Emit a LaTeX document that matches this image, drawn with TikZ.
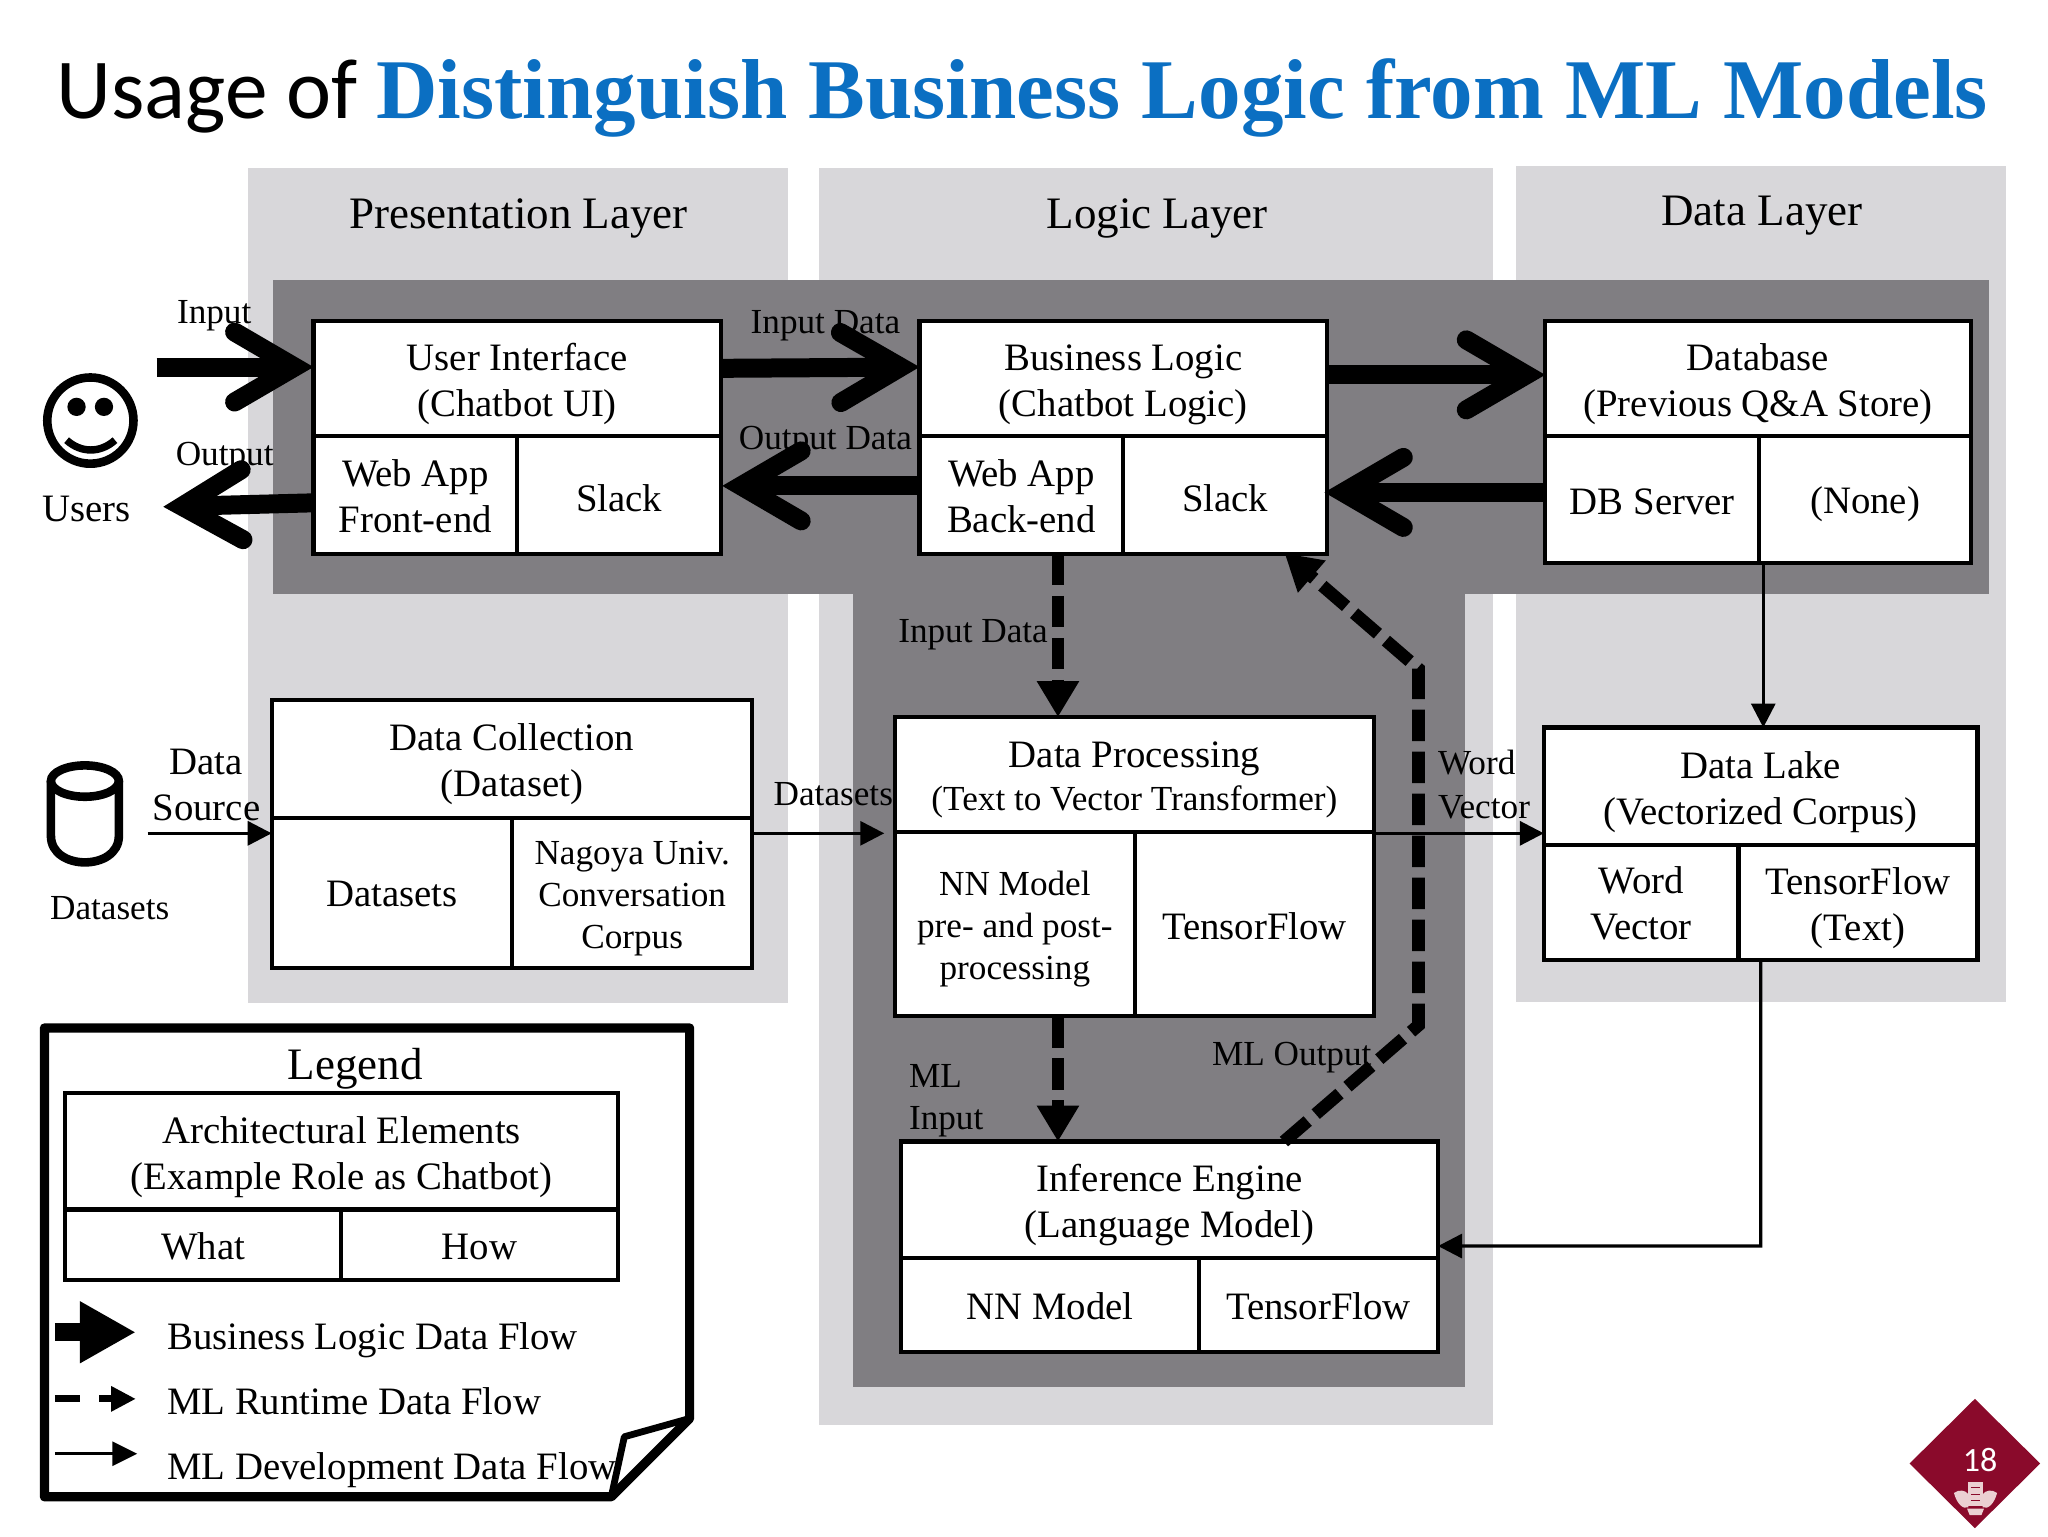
\documentclass[tikz,border=0pt]{standalone}
\usepackage{fontspec}
\setmainfont{Liberation Serif}
\newfontfamily\calibri{Carlito}
\usetikzlibrary{arrows.meta,calc}
\definecolor{lightband}{HTML}{D8D7DA}
\definecolor{darkband}{HTML}{807E82}
\definecolor{titleblue}{HTML}{0B6FC2}
\definecolor{maroon}{HTML}{8A0A2B}
\definecolor{crest}{HTML}{EBD0D2}
\def\uu{0.65306pt}
\def\fbig{\fontsize{22.5}{26}\selectfont}
\def\fmid{\fontsize{19.4}{23}\selectfont}
\def\fsm{\fontsize{17.6}{21}\selectfont}
\def\fnam{\fontsize{19.4}{23}\selectfont}
\tikzset{
  cell/.style={draw=black,fill=white,line width=2.1pt,inner sep=0pt,outer sep=0pt,align=center,font=\fmid,text=black},
  cellsmall/.style={cell,font=\fsm},
  lbl/.style={inner sep=0pt,outer sep=0pt,font=\fsm,align=center,text=black},
  lblleft/.style={inner sep=0pt,outer sep=0pt,font=\fsm,align=left,text=black},
  namelbl/.style={inner sep=0pt,outer sep=0pt,font=\fnam,align=center,text=black},
  layertitle/.style={inner sep=0pt,outer sep=0pt,font=\fbig,text=black},
  legendlbl/.style={inner sep=0pt,outer sep=0pt,font=\fmid,anchor=base west,text=black},
  bizflow/.style={line width=9.5pt,line cap=butt,draw=black,-{Straight Barb[length=30pt,width=35pt,line width=9.5pt,line cap=round,line join=miter]}},
  runflow/.style={line width=6.3pt,draw=black,dash pattern=on 15.7pt off 5.3pt,line join=miter,-{Triangle[length=18pt,width=20pt]}},
  devflow/.style={line width=1.6pt,draw=black,-{Triangle[length=12pt,width=12pt]}},
}
\newcommand{\mkcell}[7][1.3pt]{\node[cell,minimum width={(#5-#3)*\uu},minimum height={(#6-#4)*\uu}] (#2) at ({(#3+#5)/2},{(#4+#6)/2}) {\rule{0pt}{\dimexpr 14pt+2\dimexpr#1\relax\relax}#7};}
\newcommand{\mkcellS}[7][1.6pt]{\node[cellsmall,minimum width={(#5-#3)*\uu},minimum height={(#6-#4)*\uu}] (#2) at ({(#3+#5)/2},{(#4+#6)/2}) {\rule{0pt}{\dimexpr 14pt+2\dimexpr#1\relax\relax}#7};}
\begin{document}
\begin{tikzpicture}[x=0.65306pt,y=-0.65306pt]
\useasboundingbox (0,0) rectangle (1568,1176);
\fill[white] (0,0) rectangle (1568,1176);
% bands
\fill[lightband] (190,129) rectangle (603,768);
\fill[lightband] (627,129) rectangle (1143,1091);
\fill[lightband] (1161,127) rectangle (1536,767);
\fill[darkband] (209,214) rectangle (1523,455);
\fill[darkband] (653,455) rectangle (1122,1062);
% title
\node[anchor=base west,inner sep=0pt,font=\calibri\fontsize{42.7}{50}\selectfont] (t1) at (43,91) {Usage of};
\node[anchor=base west,inner sep=0pt,font=\bfseries\fontsize{42.5}{50}\selectfont,text=titleblue] (t2) at (288,91) {Distinguish Business Logic from ML Models};
% layer titles
\node[layertitle] (lp) at (397,167) {Presentation Layer};
\node[layertitle] (ll) at (886,167) {Logic Layer};
\node[layertitle] (ld) at (1349,165) {Data Layer};
% cells
\mkcell[2.6pt]{ui}{240}{246}{552}{334}{User Interface\\(Chatbot UI)}
\mkcell[0.3pt]{uil}{240}{334}{396}{424}{Web App\\Front-end}
\mkcell{uir}{396}{334}{552}{424}{Slack}
\mkcell[2.6pt]{bl}{704}{246}{1016}{334}{Business Logic\\(Chatbot Logic)}
\mkcell[0.3pt]{bll}{704}{334}{860}{424}{Web App\\Back-end}
\mkcell{blr}{860}{334}{1016}{424}{Slack}
\mkcell[2.6pt]{db}{1183}{246}{1509}{334}{Database\\(Previous Q\&A Store)}
\mkcell[0.6pt]{dbl}{1183}{334}{1347}{431}{DB Server}
\mkcell[2.2pt]{dbr}{1347}{334}{1509}{431}{(None)}
\mkcell[2.6pt]{dc}{208}{536}{576}{626}{Data Collection\\(Dataset)}
\mkcell[0.2pt]{dcl}{208}{626}{392}{741}{Datasets}
\mkcellS{dcr}{392}{626}{576}{741}{Nagoya Univ.\\Conversation\\Corpus}
\mkcell[2.1pt]{dp}{685}{549}{1052}{637}{Data Processing\\[-1.6pt]\fsm (Text to Vector Transformer)}
\mkcellS{dpl}{685}{637}{869}{778}{NN Model\\pre- and post-\\processing}
\mkcell[0.7pt]{dpr}{869}{637}{1052}{778}{TensorFlow}
\mkcell[2.6pt]{dl}{1182}{557}{1514}{647}{Data Lake\\(Vectorized Corpus)}
\mkcell[0.3pt]{dll}{1182}{647}{1331}{735}{Word\\Vector}
\mkcell[2.6pt]{dlr}{1331}{647}{1514}{735}{TensorFlow\\(Text)}
\mkcell[2.6pt]{ie}{690}{874}{1101}{963}{Inference Engine\\(Language Model)}
\mkcell[0.2pt]{iel}{690}{963}{918}{1035}{NN Model}
\mkcell[0.2pt]{ier}{918}{963}{1101}{1035}{TensorFlow}
% users icon
\draw[line width=4.3pt] (69.2,322) circle (33);
\fill (58.6,311.5) circle (7);
\fill (79.6,311.5) circle (7);
\draw[line width=3.7pt] (51,337) .. controls (62,347) and (77,347) .. (88,337);
\node[namelbl] (users) at (66,390) {Users};
% datasets icon
\draw[line width=4.3pt] (65,598) ellipse (26 and 12);
\draw[line width=4.3pt] (39,598) -- (39,640) .. controls (39,667) and (91,667) .. (91,640) -- (91,598);
\node[lbl] (dsets) at (84,695) {Datasets};
% free ends
\coordinate (inA) at (120,281);
\coordinate (outZ) at (125,388);
\coordinate (srcA) at (113,638);
\coordinate (dsZ) at (677,638);
\coordinate (elbow) at (1348,954);
\coordinate (m1) at (1086,785);
\coordinate (m2) at (1086,512);
% business flows
\draw[bizflow] (inA) -- ($(ui.west)+(0,-9)$);
\draw[bizflow] ($(ui.east)+(0,-8)$) -- ($(bl.west)+(0,-9)$);
\draw[bizflow] ($(bl.east)+(0,-3)$) -- ($(db.west)+(0,-3)$);
\draw[bizflow] ($(dbl.west)+(0,-5.5)$) -- ($(blr.east)+(-2,-2)$);
\draw[bizflow] ($(bll.west)+(0,-7)$) -- ($(uir.east)+(1,-7)$);
\draw[bizflow] ($(uil.west)+(-1,6)$) -- (outZ);
% ML runtime flows
\draw[runflow] ($(bll.south west)+(106,0)$) -- ($(dp.north west)+(125,0)$);
\draw[runflow] ($(dpl.south west)+(125,0)$) -- ($(ie.north west)+(120,0)$);
\draw[runflow] ($(ie.north west)+(293,0)$) -- (m1) -- (m2) -- ($(blr.south west)+(123.5,-0.5)$);
% ML development flows
\draw[devflow] (srcA) -- ($(dcl.north west)+(0,12)$);
\draw[devflow] ($(dcr.north east)+(0,12)$) -- (dsZ);
\draw[devflow] ($(dp.south east)+(0,1)$) -- ($(dll.north west)+(0,-9)$);
\draw[devflow] ($(dbr.south west)+(3,0)$) -- ($(dl.north west)+(168,0)$);
\draw[devflow] ($(dlr.south west)+(17,0)$) -- (elbow) -- ($(ie.south east)+(0,-9)$);
% labels
\node[lbl] (lInput) at (164,242) {Input};
\node[lbl] (lOutput) at (172,350) {Output};
\node[lbl] (lID1) at (632,249) {Input Data};
\node[lbl] (lOD) at (632,338) {Output Data};
\node[lbl] (lID2) at (745,486) {Input Data};
\node[namelbl] (lSrc) at (158,601) {Data\\Source};
\node[lbl] (lDs) at (638,608) {Datasets};
\node[lblleft,anchor=west] (lWV) at (1101,601) {Word\\[1pt]Vector};
\node[lbl] (lMO) at (989,810) {ML Output};
\node[lblleft,anchor=west] (lMI) at (696,843) {ML\\Input};
% legend
\draw[line width=4.6pt,line join=round,fill=white] (34,787) -- (528,787) -- (528,1086) -- (468,1146) -- (34,1146) -- cycle;
\draw[line width=3.4pt,line join=round] (528,1086) -- (478,1100) -- (468,1146);
\node[layertitle] (lg) at (272,818) {Legend};
\mkcell[2.6pt]{lga}{50}{837}{473}{926}{Architectural Elements\\(Example Role as Chatbot)}
\mkcell[0.6pt]{lgw}{50}{926}{261}{980}{What}
\mkcell[0.6pt]{lgh}{261}{926}{473}{980}{How}
\coordinate (k1a) at (42,1020); \coordinate (k1z) at (104,1020);
\coordinate (k2a) at (42,1071); \coordinate (k2z) at (104,1071);
\coordinate (k3a) at (42,1113); \coordinate (k3z) at (105,1113);
\draw[line width=9.2pt,-{Triangle[length=28pt,width=29pt]}] (k1a) -- (k1z);
\draw[line width=3.5pt,dash pattern=on 12.4pt off 9.8pt,-{Triangle[length=12.4pt,width=12pt]}] (k2a) -- (k2z);
\draw[line width=1.5pt,-{Triangle[length=12.4pt,width=12pt]}] (k3a) -- (k3z);
\node[legendlbl] (k1t) at (128,1033) {Business Logic Data Flow};
\node[legendlbl] (k2t) at (128,1083) {ML Runtime Data Flow};
\node[legendlbl] (k3t) at (128,1133) {ML Development Data Flow};
% page badge
\fill[maroon] (1512,1071) -- (1562,1120.5) -- (1512,1170) -- (1462,1120.5) -- cycle;
\node[inner sep=0pt,text=white,font=\calibri\fontsize{17}{20}\selectfont] (pg) at (1516,1118) {18};
\fill[crest] (1507,1135) rectangle (1518,1153);
\fill[crest] (1496,1143) .. controls (1500,1140) and (1505,1141) .. (1507,1144) -- (1507,1154) .. controls (1503,1156) and (1498,1151) .. cycle;
\fill[crest] (1529,1143) .. controls (1525,1140) and (1520,1141) .. (1518,1144) -- (1518,1154) .. controls (1522,1156) and (1527,1151) .. cycle;
\fill[crest] (1506,1155) -- (1519,1155) -- (1517,1160) -- (1508,1160) -- cycle;
\draw[maroon,line width=0.5pt] (1509,1139) -- (1516,1139) (1509,1144) -- (1516,1144) (1509,1149) -- (1516,1149);
\end{tikzpicture}
\end{document}
